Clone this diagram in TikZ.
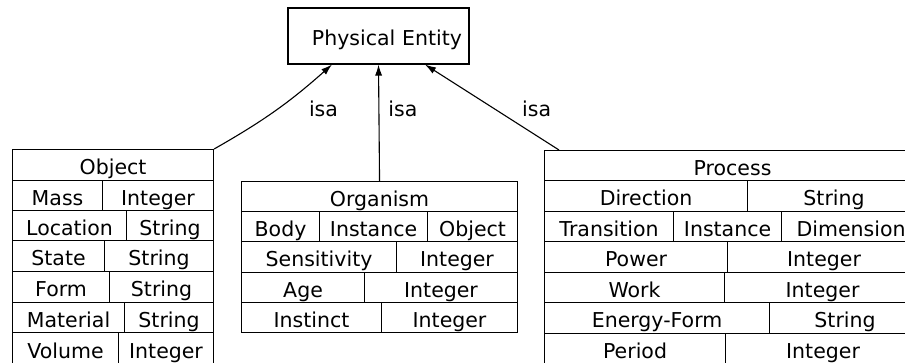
\documentclass[tikz,border=0pt]{standalone}
\usepackage{fontspec}
\setmainfont{DejaVu Sans}
\usetikzlibrary{arrows.meta,positioning}

\tikzset{
  cell/.style={draw, line width=1.1pt, anchor=north west, inner sep=0pt,
    text height=19pt, text depth=0pt},
  isa/.style={anchor=west, inner sep=0pt, text height=19pt, text depth=0pt}
}

\begin{document}
\begin{tikzpicture}[x=1pt,y=-1pt,->,>={Latex[length=11pt,width=7pt]},
  every edge/.append style={line width=1.1pt},
  font=\fontsize{20.5}{24}\selectfont]
  \useasboundingbox (0,0) rectangle (905,363);
  \clip (0,0) rectangle (905,363);

  % superclass
  \node[cell, anchor=center, minimum width=181pt, minimum height=56pt,
    text width=167pt, inner xsep=7pt, align=right] (entity) at (378.5,36) {Physical Entity};

  % Object
  \node[cell, minimum width=201pt, minimum height=31pt] (object) at (12,149) {Object};
  \foreach \n/\top/\bot/\mid/\ka/\kb in {mass/180/210/102/Mass/Integer,
      location/210/240/126/Location/String, state/240/271/104/State/String,
      form/271/302/109/Form/String, material/302/332/124/Material/String,
      volume/332/364/118/Volume/Integer} {
    \node[cell, minimum width=\mid-12, minimum height=\bot-\top] (\n-key) at (12,\top) {\ka};
    \node[cell, minimum width=213-\mid, minimum height=\bot-\top] (\n-type) at (\mid,\top) {\kb};
  }

  % Organism
  \node[cell, minimum width=276pt, minimum height=30pt] (organism) at (241,181) {Organism};
  \node[cell, minimum width=78pt, minimum height=30pt] (body-key) at (241,211) {Body};
  \node[cell, minimum width=108pt, minimum height=30pt] (body-rel) at (319,211) {Instance};
  \node[cell, minimum width=90pt, minimum height=30pt] (body-type) at (427,211) {Object};
  \foreach \n/\top/\bot/\mid/\ka/\kb in {sensitivity/241/272/396/Sensitivity/Integer,
      age/272/302/364/Age/Integer, instinct/302/332/381/Instinct/Integer} {
    \node[cell, minimum width=\mid-241, minimum height=\bot-\top] (\n-key) at (241,\top) {\ka};
    \node[cell, minimum width=517-\mid, minimum height=\bot-\top] (\n-type) at (\mid,\top) {\kb};
  }

  % Process
  \node[cell, minimum width=376pt, minimum height=30pt] (process) at (544,150) {Process};
  \node[cell, minimum width=203pt, minimum height=31pt] (direction-key) at (544,180) {Direction};
  \node[cell, minimum width=173pt, minimum height=31pt] (direction-type) at (747,180) {String};
  \node[cell, minimum width=129pt, minimum height=30pt] (transition-key) at (544,211) {Transition};
  \node[cell, minimum width=108pt, minimum height=30pt] (transition-rel) at (673,211) {Instance};
  \node[cell, minimum width=139pt, minimum height=30pt] (transition-type) at (781,211) {Dimension};
  \foreach \n/\top/\bot/\mid/\ka/\kb in {power/241/272/727/Power/Integer,
      work/272/302/724/Work/Integer, energy/302/333/769/Energy-Form/String,
      period/333/364/725/Period/Integer} {
    \node[cell, minimum width=\mid-544, minimum height=\bot-\top] (\n-key) at (544,\top) {\ka};
    \node[cell, minimum width=920-\mid, minimum height=\bot-\top] (\n-type) at (\mid,\top) {\kb};
  }

  % isa links
  \path (object.north east) edge[bend right=6] node[isa, pos=0.48, xshift=35pt, yshift=5pt] {isa}
          ([xshift=-46.5pt]entity.south)
        (organism.north) edge node[isa, pos=0.62, xshift=9pt, yshift=2pt] {isa} (entity.south)
        ([xshift=15pt]process.north west) edge node[isa, pos=0.48, xshift=27pt, yshift=2pt] {isa}
          ([xshift=46.5pt]entity.south);
\end{tikzpicture}
\end{document}
